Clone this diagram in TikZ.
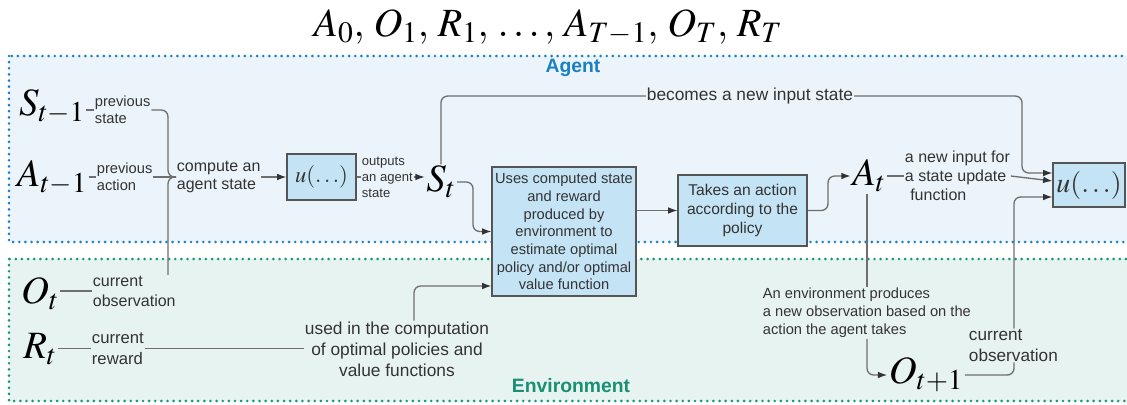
\documentclass[tikz,border=0pt]{standalone}
\usepackage{mathptmx}
\usepackage[no-math]{fontspec}
\setmainfont{Liberation Sans}
\usetikzlibrary{arrows.meta}
\definecolor{agentbg}{HTML}{EBF4FA}
\definecolor{envbg}{HTML}{E7F3F0}
\definecolor{agentdot}{HTML}{1B7FC4}
\definecolor{envdot}{HTML}{17967A}
\definecolor{envlab}{HTML}{1A8F74}
\definecolor{boxfill}{HTML}{C4E4F6}
\definecolor{boxline}{HTML}{555555}
\definecolor{lineg}{HTML}{6E6E6E}
\definecolor{txt}{HTML}{333333}
\definecolor{tipc}{HTML}{333333}
\begin{document}
\begin{tikzpicture}[x=0.75pt,y=-0.75pt,
  conn/.style={draw=lineg, line width=1pt, rounded corners=5pt},
  arr/.style={conn, -{Latex[length=7pt,width=5pt,color=tipc]}},
  lbl/.style={text=txt, inner sep=0.5pt, align=left},
  mth/.style={inner sep=1pt, font=\fontsize{29}{29}\selectfont},
  box/.style={draw=boxline, fill=boxfill, line width=0.8pt, text=txt, align=center, inner sep=2pt},
  region/.style={line width=2.2pt, line cap=round, dash pattern=on 0pt off 4.6pt}
]
\useasboundingbox (0,0) rectangle (1127,404);
% regions
\fill[agentbg] (9,56) rectangle (1140,242);
\draw[region, agentdot] (9,56) rectangle (1140,242);
\fill[envbg] (9,259) rectangle (1140,401);
\draw[region, envdot] (9,259) rectangle (1140,401);

% title and region labels
\node[mth, font=\fontsize{30}{30}\selectfont] (title) at (548,27) {$A_0,\, O_1,\, R_1,\, \ldots,\, A_{T-1},\, O_T,\, R_T$};
\node[font=\bfseries\fontsize{14.5}{16}\selectfont, text=agentdot] (agent) at (573,68) {Agent};
\node[font=\bfseries\fontsize{14.5}{16}\selectfont, text=envlab] (env) at (571,386) {Environment};

% math nodes
\node[mth] (Stm1) at (52,107) {$S_{t-1}$};
\node[mth] (Atm1) at (52,178) {$A_{t-1}$};
\node[mth] (Ot) at (40,294) {$O_t$};
\node[mth] (Rt) at (40,349) {$R_t$};
\node[mth] (St) at (441,182) {$S_t$};
\node[mth] (At) at (869,176) {$A_t$};
\node[mth] (Ot1) at (926,375) {$O_{t+1}$};

% labels
\node[lbl, font=\fontsize{11}{12.75}\selectfont, anchor=west] (prevS) at (94,110) {previous\\state};
\node[lbl, font=\fontsize{11}{12.75}\selectfont, anchor=west] (prevA) at (96,177) {previous\\action};
\node[lbl, font=\fontsize{12}{13.5}\selectfont, anchor=west] (comp) at (176,177) {compute an\\agent state};
\node[lbl, font=\fontsize{9.8}{12}\selectfont, anchor=west] (outp) at (361,177) {outputs\\an agent\\state};
\node[lbl, font=\fontsize{13}{15}\selectfont] (becomes) at (750,96) {becomes a new input state};
\node[lbl, font=\fontsize{12}{14.25}\selectfont, anchor=west] (newin) at (904,176) {a new input for\\a state update\\\hspace{4pt}function};
\node[lbl, font=\fontsize{11}{13.5}\selectfont, anchor=west] (envlbl) at (762,313) {An environment produces\\a new observation based on the\\action the agent takes};
\node[lbl, font=\fontsize{12.9}{15.5}\selectfont, anchor=west] (curobs2) at (968,345.5) {current\\observation};
\node[lbl, font=\fontsize{12}{15}\selectfont, anchor=west] (curobs) at (92,291) {current\\observation};
\node[lbl, font=\fontsize{12.5}{15.5}\selectfont, anchor=west] (currew) at (91,348.5) {current\\reward};
\node[lbl, font=\fontsize{13}{15.75}\selectfont, align=center] (used) at (397,349) {used in the computation\\of optimal policies and\\value functions};

% boxes
\node[box, minimum width=51.75pt, minimum height=34.5pt] (u1) at (321.5,177) {\fontsize{17}{17}\selectfont$u(\ldots)$};
\node[box, minimum width=108pt, minimum height=96.75pt, font=\fontsize{11}{13.3}\selectfont] (big) at (564,231.5) {Uses computed state\\and reward\\produced by\\environment to\\estimate optimal\\policy and/or optimal\\value function};
\node[box, minimum width=96.75pt, minimum height=53.25pt, font=\fontsize{11.7}{14.25}\selectfont] (takes) at (742.5,210.5) {Takes an action\\according to the\\policy};
\node[box, minimum width=54pt, minimum height=33pt] (u2) at (1089,185) {\fontsize{21}{21}\selectfont$u(\ldots)$};

% helper coordinates
\coordinate (jn) at (168,177);
\coordinate (rc) at (1022,0);
\coordinate (ax) at (867,0);
\coordinate (ox) at (1014,0);
\coordinate (ux) at (414,0);
\path (u2.west) ++(0,-12) coordinate (u2a);
\path (u2.west) ++(0,-4) coordinate (u2b);
\path (u2.west) ++(0,12) coordinate (u2c);
\path (big.west) ++(0,54.5) coordinate (bigin2);

% connectors
\draw[conn] (prevS.west -| Stm1.east) -- (prevS.west);
\draw[conn] (prevA.west -| Atm1.east) -- (prevA.west);
\draw[conn] (prevS.east) -| (jn) -- (jn -| comp.west);
\draw[conn] (curobs.north -| jn) -- (jn) -- (jn -| comp.west);
\draw[conn] (prevA.east) -- (prevA.east -| comp.west);
\draw[arr] (comp.east |- u1.west) -- (u1.west);
\draw[conn] (u1.east) -- (outp.west);
\draw[arr] (outp.east) -- (St.west |- outp.east);
\draw[conn] (St.north) |- (becomes.west);
\draw[arr] (becomes.east) -| (rc |- u2a) -- (u2a);
\draw[arr] (St.east) -| (473,200) |- (big.west);
\draw[arr] (big.east |- takes.west) -- (takes.west);
\draw[arr] (takes.east) -| (828,190) |- (At.west);
\draw[conn] (At.east |- newin.west) -- (newin.west);
\draw[arr] (newin.east) -- (u2b);
\draw[conn] (At.south -| ax) -- (envlbl.north -| ax);
\draw[arr] (envlbl.south -| ax) |- (Ot1.west);
\draw[conn] (Ot1.east) -| (curobs2.south -| ox);
\draw[arr] (curobs2.north -| ox) |- (u2c);
\draw[conn] (Ot.east |- curobs.west) -- (curobs.west);
\draw[conn] (Rt.east |- currew.west) -- (currew.west);
\draw[conn] (currew.east) -- (used.west |- currew.east);
\draw[arr] (used.north -| ux) |- (bigin2);
\end{tikzpicture}
\end{document}
